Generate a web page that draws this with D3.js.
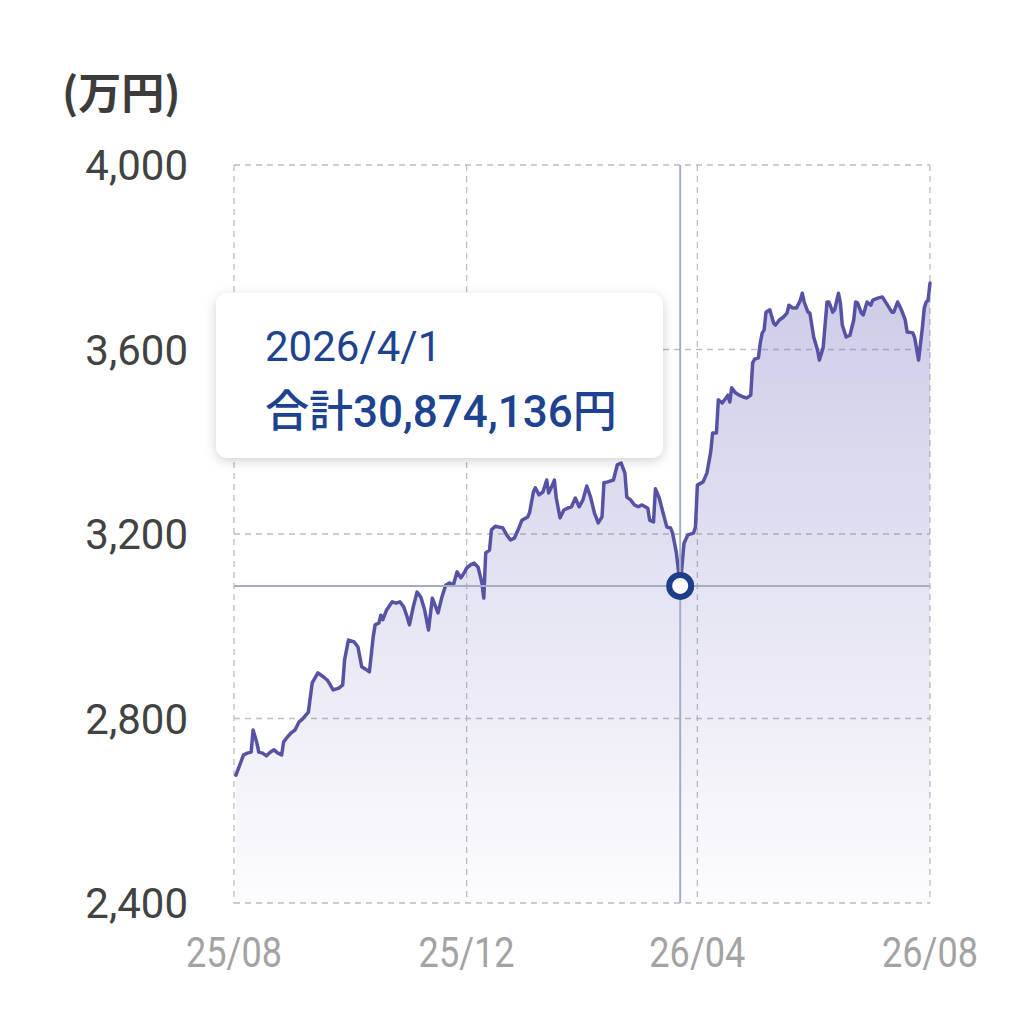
<!DOCTYPE html>
<html><head><meta charset="utf-8">
<script src="https://cdn.jsdelivr.net/npm/d3@7"></script>
<style>
html,body{margin:0;padding:0;background:#fff;}
svg{display:block;}
</style></head>
<body>
<svg id="chart" width="1014" height="1024"></svg>
<script>
// ---- data ----
const startDate = "2025-08-01";
const dayOffsets = [1,2,5,7,9,10,12,13,15,17,19,21,23,25,26,28,30,32,34,36,39,41,44,47,49,52,55,57,58,60,63,65,67,69,71,73,74,76,77,78,80,83,85,87,89,91,92,94,96,98,100,102,104,105,107,109,111,113,115,117,119,121,122,124,126,128,130,131,132,134,135,137,139,141,143,145,147,149,151,154,155,157,158,160,162,164,165,167,168,169,171,173,175,177,179,181,183,185,187,189,191,193,194,196,199,201,203,205,206,208,210,212,214,217,218,220,221,223,225,227,229,230,232,234,236,238,241,242,243,246,248,250,251,253,254,256,258,259,260,261,263,265,267,269,271,272,273,275,276,277,278,279,281,283,284,286,288,290,291,293,295,297,298,299,301,302,304,306,307,309,311,312,314,315,317,318,319,321,323,325,326,327,329,330,332,334,335,338,340,342,345,346,348,350,352,353,356,357,359,361,362,363,364,365];
const totals = [2677,2688,2721,2725,2727,2775,2747,2727,2725,2719,2727,2732,2725,2721,2749,2760,2769,2775,2792,2799,2814,2877,2899,2890,2883,2862,2866,2873,2927,2970,2966,2955,2912,2907,2901,2977,3003,3007,3024,3014,3035,3053,3050,3053,3042,3018,3003,3042,3074,3063,3035,2992,3061,3050,3029,3063,3089,3094,3089,3118,3105,3118,3126,3133,3137,3128,3094,3061,3159,3165,3209,3217,3215,3213,3198,3187,3191,3209,3230,3237,3246,3291,3300,3285,3291,3317,3289,3306,3317,3278,3235,3252,3256,3259,3278,3259,3274,3304,3280,3246,3224,3237,3311,3313,3317,3350,3354,3332,3280,3274,3263,3259,3263,3256,3230,3226,3298,3278,3246,3215,3213,3202,3159,3087.4136,3180,3198,3202,3215,3306,3313,3332,3378,3419,3419,3491,3484,3495,3501,3486,3517,3506,3501,3497,3495,3501,3571,3579,3582,3614,3636,3642,3681,3686,3657,3653,3664,3670,3679,3696,3690,3690,3707,3722,3703,3681,3679,3627,3599,3577,3605,3703,3703,3681,3686,3722,3701,3653,3627,3631,3664,3703,3701,3679,3675,3703,3696,3707,3712,3714,3701,3681,3681,3703,3686,3664,3638,3636,3625,3577,3647,3690,3703,3707,3744];
const yTicks = [2400,2800,3200,3600,4000];
const xTickDates = ["2025-08-01","2025-12-01","2026-04-01","2026-08-01"];
const xDomain = ["2025-08-01","2026-08-01"];
const yDomain = [2400,4000];
const highlightIndex = 123;
const tooltipDate = "2026/4/1";
const tooltipLabel = "合計30,874,136円";
const unitLabel = "(万円)";

// ---- build ----
const parse = d3.timeParse("%Y-%m-%d");
const base = parse(startDate);
const data = dayOffsets.map((d,i)=>({date:d3.timeDay.offset(base,d), value:totals[i]}));

const svg = d3.select("#chart");
const L=234,R=930,T=165,B=903;
const x = d3.scaleTime().domain(xDomain.map(parse)).range([L,R]);
const y = d3.scaleLinear().domain(yDomain).range([B,T]);

const defs = svg.append("defs");
const grad = defs.append("linearGradient").attr("id","areaGrad")
  .attr("gradientUnits","userSpaceOnUse").attr("x1",0).attr("x2",0).attr("y1",y(3750)).attr("y2",B);
grad.append("stop").attr("offset","0%").attr("stop-color","#7470bd").attr("stop-opacity",0.36);
grad.append("stop").attr("offset","100%").attr("stop-color","#7470bd").attr("stop-opacity",0.02);
const f = defs.append("filter").attr("id","shadow").attr("x","-10%").attr("y","-15%").attr("width","120%").attr("height","140%");
f.append("feDropShadow").attr("dx",0).attr("dy",3).attr("stdDeviation",6).attr("flood-color","#000").attr("flood-opacity",0.18);

// grid
const gridColor="#bdbdc2";
svg.append("g").selectAll("line").data(yTicks).join("line")
  .attr("x1",L).attr("x2",R).attr("y1",d=>y(d)).attr("y2",d=>y(d))
  .attr("stroke",gridColor).attr("stroke-width",1.3).attr("stroke-dasharray","6,5");
svg.append("g").selectAll("line").data(xTickDates).join("line")
  .attr("x1",d=>x(parse(d))).attr("x2",d=>x(parse(d))).attr("y1",T).attr("y2",B)
  .attr("stroke",gridColor).attr("stroke-width",1.3).attr("stroke-dasharray","6,5");

// area + line
const area = d3.area().x(d=>x(d.date)).y0(B).y1(d=>y(d.value));
const line = d3.line().x(d=>x(d.date)).y(d=>y(d.value));
svg.append("path").datum(data).attr("d",area).attr("fill","url(#areaGrad)");
svg.append("path").datum(data).attr("d",line).attr("fill","none")
  .attr("stroke","#5653a6").attr("stroke-width",3.5).attr("stroke-linejoin","round").attr("stroke-linecap","round");

// crosshair
const hp = data[highlightIndex];
svg.append("line").attr("x1",x(hp.date)).attr("x2",x(hp.date)).attr("y1",T).attr("y2",B)
  .attr("stroke","#a3aec2").attr("stroke-width",2);
svg.append("line").attr("x1",L).attr("x2",R).attr("y1",y(hp.value)).attr("y2",y(hp.value))
  .attr("stroke","#a3aec2").attr("stroke-width",2);
svg.append("circle").attr("cx",x(hp.date)).attr("cy",y(hp.value)).attr("r",11)
  .attr("fill","#fff").attr("stroke","#1b3f8b").attr("stroke-width",6);

// axes labels
svg.append("g").selectAll("text").data(yTicks).join("text")
  .attr("x",188).attr("y",d=>y(d)).attr("dy","0.36em").attr("text-anchor","end")
  .attr("font-family","Roboto, 'Noto Sans', sans-serif").attr("font-size",42).attr("fill","#424242")
  .text(d=>d3.format(",")(d));
const fmtX = d3.timeFormat("%y/%m");
svg.append("g").selectAll("text").data(xTickDates).join("text")
  .attr("transform",d=>`translate(${x(parse(d))},967) scale(0.86,1)`)
  .attr("text-anchor","middle")
  .attr("font-family","Roboto, 'Noto Sans', sans-serif").attr("font-size",42).attr("fill","#a3a3a3")
  .text(d=>fmtX(parse(d)));
svg.append("text").attr("x",62).attr("y",109)
  .attr("font-family","'Noto Sans CJK JP', 'Noto Sans', sans-serif").attr("font-size",43).attr("font-weight",700)
  .attr("fill","#3c3c3c").text(unitLabel);

// tooltip
const tip = svg.append("g");
tip.append("rect").attr("x",216).attr("y",293).attr("width",447).attr("height",165).attr("rx",12)
  .attr("fill","#fff").attr("filter","url(#shadow)");
tip.append("text").attr("x",265).attr("y",361)
  .attr("font-family","Roboto, 'Noto Sans CJK JP', sans-serif").attr("font-size",42).attr("fill","#1d4290")
  .text(tooltipDate);
tip.append("text").attr("x",265).attr("y",427)
  .attr("font-family","Roboto, 'Noto Sans CJK JP', sans-serif").attr("font-size",44).attr("font-weight",500).attr("fill","#1d4290")
  .text(tooltipLabel);
</script>
</body></html>
